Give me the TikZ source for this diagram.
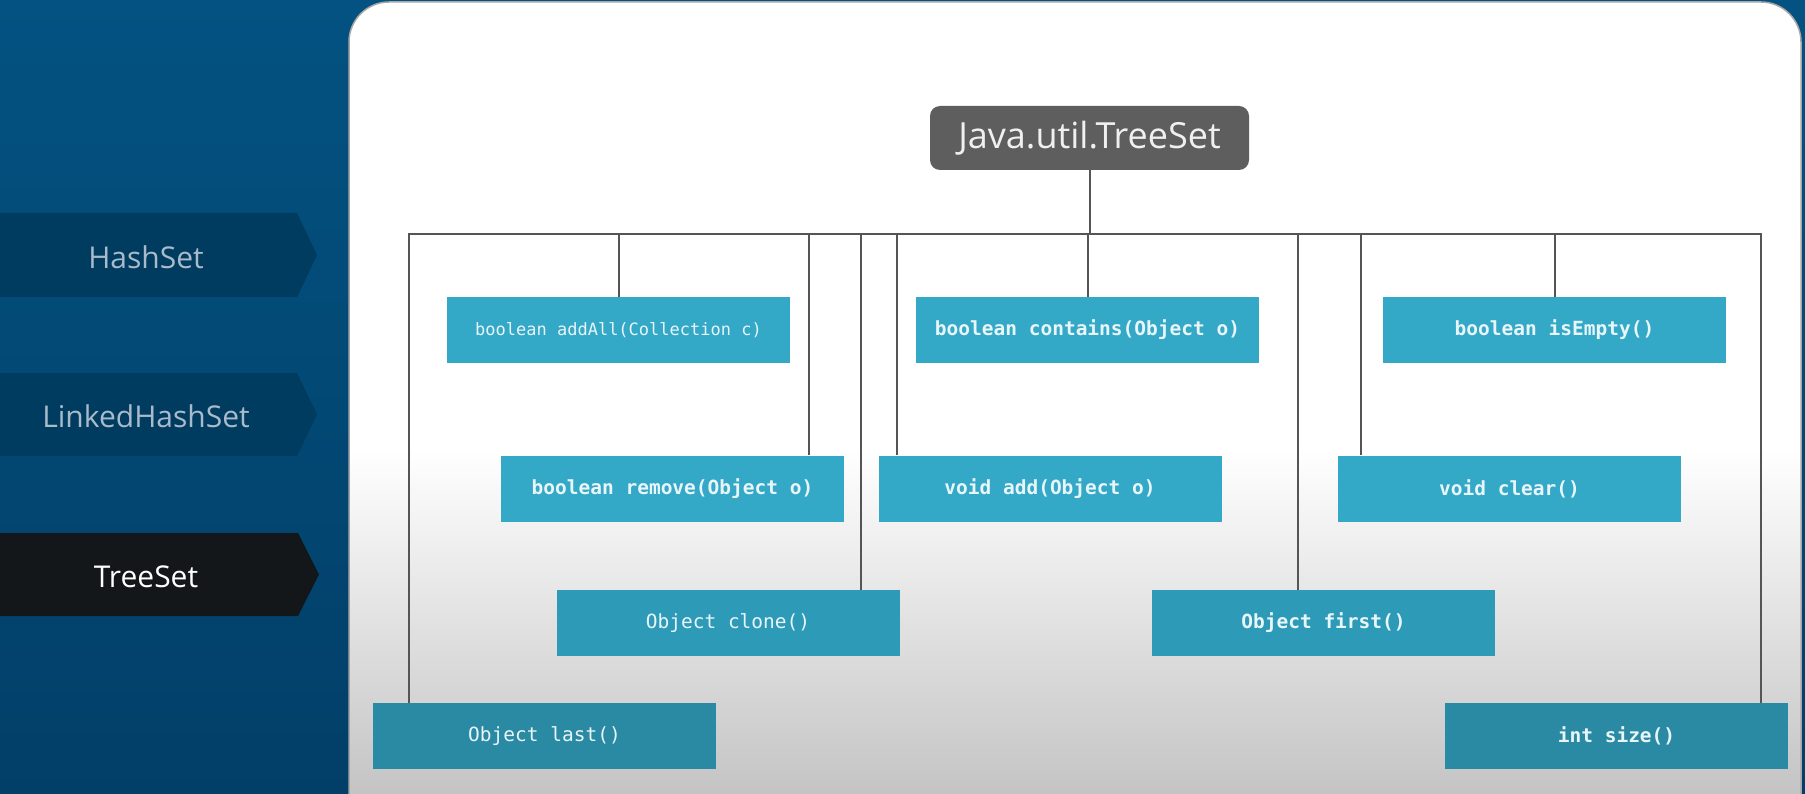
\documentclass[tikz,border=0pt]{standalone}
\usepackage{fontspec}
\setmainfont{Open Sans}
\newfontfamily\boxmono{DejaVu Sans Mono}
\definecolor{bgtop}{HTML}{035281}
\definecolor{bgbot}{HTML}{023F68}
\definecolor{bandc}{HTML}{003B60}
\definecolor{bandsel}{HTML}{141719}
\definecolor{bandtxt}{HTML}{A9BACA}
\definecolor{rootfill}{HTML}{5E5E5E}
\definecolor{boxA}{HTML}{33A8C7}
\definecolor{boxB}{HTML}{2D9BB8}
\definecolor{boxC}{HTML}{2A89A3}
\definecolor{linec}{HTML}{555555}
\definecolor{boxtxt}{HTML}{E8F5F9}
\definecolor{panelbot}{HTML}{C4C4C4}
\tikzset{
  mbox/.style={rectangle, inner sep=0pt, minimum width=343pt, minimum height=66pt,
    text=boxtxt, font=\boxmono\fontsize{19.5}{22}\selectfont},
  mboxb/.style={mbox, font=\boxmono\bfseries\fontsize{19.5}{22}\selectfont},
  rootbox/.style={rectangle, rounded corners=10pt, fill=rootfill, inner sep=0pt,
    minimum width=319pt, minimum height=64pt, text=white!94!black,
    font=\fontsize{36}{40}\selectfont},
  bandtext/.style={font=\fontsize{30}{36}\selectfont, text=bandtxt},
  conn/.style={draw=linec, line width=2pt}
}
\begin{document}
\begin{tikzpicture}[x=1pt,y=-1pt]
\useasboundingbox (0,0) rectangle (1805,794);
% background
\shade[top color=bgtop, bottom color=bgbot] (0,0) rectangle (1805,794);
% side bands
\fill[bandc] (0,213) -- (297,213) -- (317,255) -- (297,297) -- (0,297) -- cycle;
\fill[bandc] (0,373) -- (297,373) -- (317,414.5) -- (297,456) -- (0,456) -- cycle;
\fill[bandsel] (0,533) -- (298,533) -- (319,574.5) -- (298,616) -- (0,616) -- cycle;
\node[bandtext] (hs) at (146,257) {HashSet};
\node[bandtext] (lhs) at (146,416) {LinkedHashSet};
\node[bandtext, text=white] (ts) at (146,577) {TreeSet};
% panel
\begin{scope}
\clip[rounded corners=40pt] (349,2) rectangle (1801,860);
\fill[white] (349,2) rectangle (1801,794);
\shade[top color=white, bottom color=panelbot] (349,450) rectangle (1801,794);
\end{scope}
\draw[gray!70, line width=1.5pt, rounded corners=40pt] (349,860) -- (349,2) -- (1801,2) -- (1801,860);
% root
\node[rootbox] (root) at (1089.5,138) {Java.util.TreeSet};
% method boxes
\node[mbox, fill=boxA, font=\boxmono\fontsize{17}{20}\selectfont] (addall) at (618.5,330) {boolean addAll(Collection c)};
\node[mboxb, fill=boxA] (contains) at (1087.5,330) {boolean contains(Object o)};
\node[mboxb, fill=boxA] (isempty) at (1554.5,330) {boolean isEmpty()};
\node[mboxb, fill=boxA] (remove) at (672.5,488.5) {boolean remove(Object o)};
\node[mboxb, fill=boxA] (add) at (1050,488.5) {void add(Object o)};
\node[mboxb, fill=boxA] (clear) at (1509.5,488.5) {void clear()};
\node[mbox, fill=boxB] (clone) at (728,623) {Object clone()};
\node[mboxb, fill=boxB] (first) at (1323.5,623) {Object first()};
\node[mbox, fill=boxC] (last) at (544.5,736) {Object last()};
\node[mboxb, fill=boxC] (size) at (1616.5,736) {int size()};
% connectors
\coordinate (bL) at (409,234);
\coordinate (bR) at (1761,234);
\coordinate (tRemove) at (809,234);
\coordinate (tClone) at (861,234);
\coordinate (tAdd) at (897,234);
\coordinate (tFirst) at (1298,234);
\coordinate (tClear) at (1361,234);
\draw[conn] (root.south) -- (root.south |- bL);
\draw[conn] (bL |- last.north) -- (bL) -- (bR) -- (bR |- size.north);
\draw[conn] (addall.north |- bL) -- (addall.north);
\draw[conn] (contains.north |- bL) -- (contains.north);
\draw[conn] (isempty.north |- bL) -- (isempty.north);
\draw[conn] (tRemove) -- (tRemove |- remove.north);
\draw[conn] (tClone) -- (tClone |- clone.north);
\draw[conn] (tAdd) -- (tAdd |- add.north);
\draw[conn] (tFirst) -- (tFirst |- first.north);
\draw[conn] (tClear) -- (tClear |- clear.north);
\end{tikzpicture}
\end{document}
